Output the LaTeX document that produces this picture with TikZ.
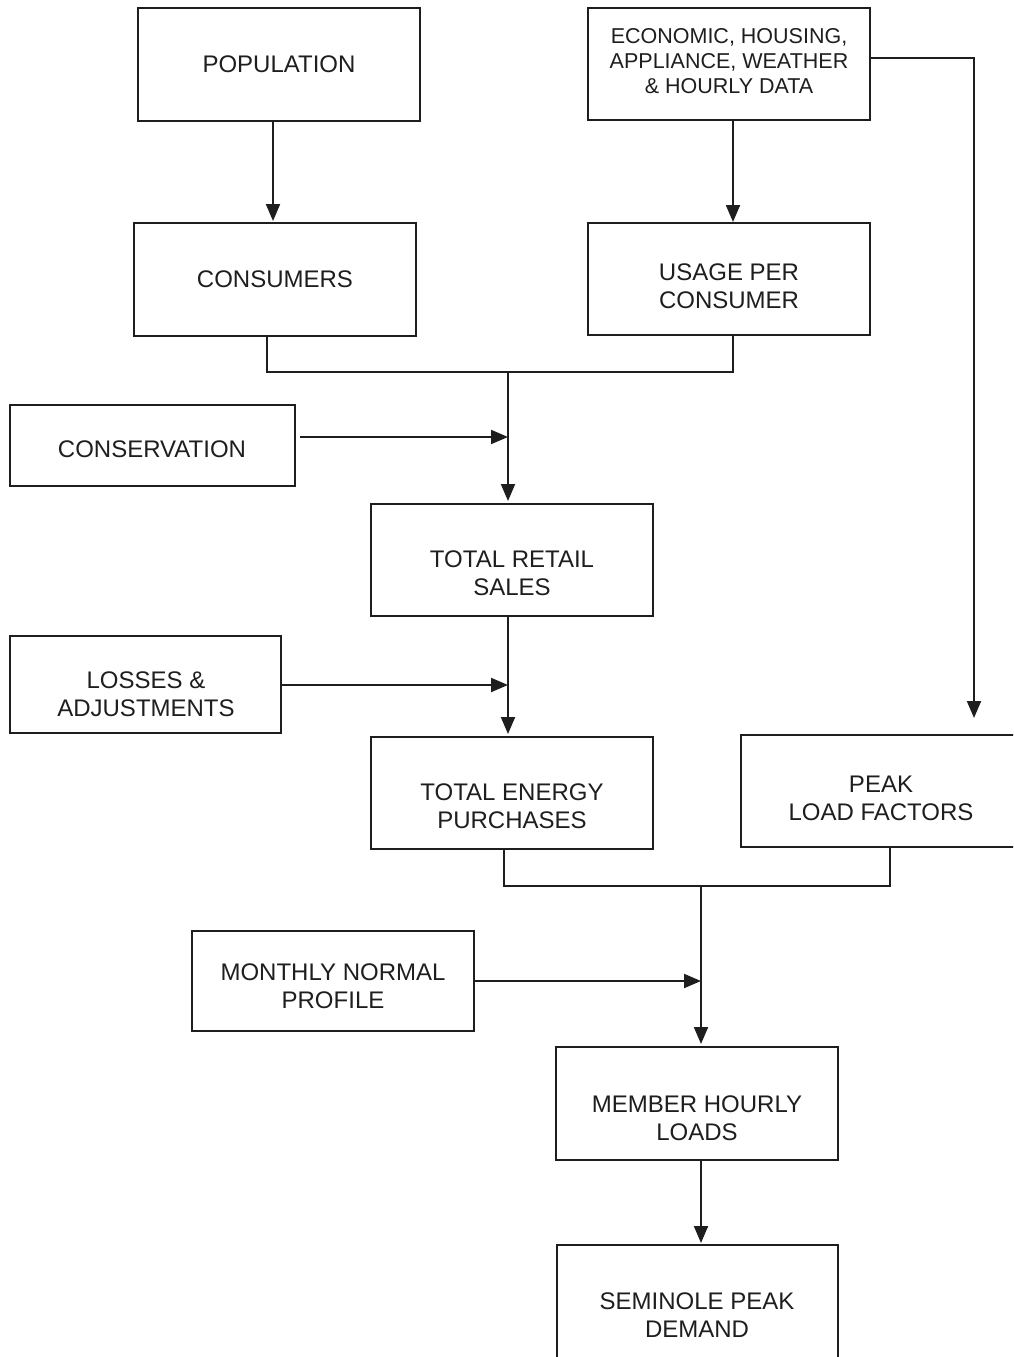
\documentclass[tikz,border=0pt]{standalone}
\usepackage{fontspec}
\setmainfont{Liberation Sans}
\usetikzlibrary{arrows.meta,calc}
\definecolor{ink}{HTML}{1E1E1E}
\begin{document}
\begin{tikzpicture}[x=1pt,y=-1pt,
  box/.style={draw=ink,line width=2pt,minimum width=282pt,minimum height=112pt,inner sep=0pt,outer sep=0pt},
  txt/.style={text=ink,align=center,inner sep=0pt,font=\fontsize{24pt}{28pt}\selectfont},
  smalltxt/.style={txt,font=\fontsize{21.5pt}{25pt}\selectfont},
  wire/.style={draw=ink,line width=2pt},
  arr/.style={wire,-{Triangle[length=17pt,width=14pt]}}]
\useasboundingbox (0,0) rectangle (1013,1357);
\clip (0,0) rectangle (1013,1357);

% boxes
\node[box,minimum height=113pt] (pop) at (279,64.5) {};
\node[box] (econ) at (729,64) {};
\node[box,minimum height=113pt] (cons) at (275,279.5) {};
\node[box] (usage) at (729,279) {};
\node[box,minimum width=285pt,minimum height=81pt] (consv) at (152.5,445.5) {};
\node[box] (retail) at (512,560) {};
\node[box,minimum width=271pt,minimum height=97pt] (losses) at (145.5,684.5) {};
\node[box] (energy) at (512,793) {};
\node[box] (peak) at (882,791) {};
\node[box,minimum height=100pt] (monthly) at (333,981) {};
\node[box,minimum height=113pt] (member) at (697,1103.5) {};
\node[box,minimum width=281pt,minimum height=116pt] (seminole) at (697.5,1303) {};

% texts
\node[txt] (pop-t) at (279,64) {POPULATION};
\node[smalltxt] (econ-t) at (729,61) {ECONOMIC, HOUSING,\\APPLIANCE, WEATHER\\\& HOURLY DATA};
\node[txt] (cons-t) at (275,279) {CONSUMERS};
\node[txt] (usage-t) at (729,286) {USAGE PER\\CONSUMER};
\node[txt] (consv-t) at (152,449) {CONSERVATION};
\node[txt] (retail-t) at (512,573) {TOTAL RETAIL\\SALES};
\node[txt] (losses-t) at (146,694) {LOSSES \&\\ADJUSTMENTS};
\node[txt] (energy-t) at (512,806) {TOTAL ENERGY\\PURCHASES};
\node[txt] (peak-t) at (881,798) {PEAK\\LOAD FACTORS};
\node[txt] (monthly-t) at (333,986) {MONTHLY NORMAL\\PROFILE};
\node[txt] (member-t) at (697,1118) {MEMBER HOURLY\\LOADS};
\node[txt] (seminole-t) at (697,1315) {SEMINOLE PEAK\\DEMAND};

% connectors
\draw[arr,shorten >=2pt] ([xshift=-6pt]pop.south) -- ([xshift=-6pt]pop.south |- cons.north);
\draw[arr,shorten >=1pt] ([xshift=4pt]econ.south) -- ([xshift=4pt]econ.south |- usage.north);
\coordinate (pkin) at ([shift={(92pt,17pt)}]peak.north);
\draw[arr] ([yshift=6pt]econ.east) -| (pkin);

\coordinate (m1) at (508,372);
\draw[wire] ([xshift=-8pt]cons.south) |- (m1) -| ([xshift=4pt]usage.south);
\draw[arr,shorten >=3pt] (m1) -- (m1 |- retail.north);
\draw[arr] ([shift={(5pt,8.5pt)}]consv.east) coordinate (c1) -- (c1 -| m1);

\draw[arr,shorten >=3pt] ([xshift=-4pt]retail.south) -- ([xshift=-4pt]retail.south |- energy.north);
\draw[arr] ([yshift=-0.5pt]losses.east) coordinate (c2) -- (c2 -| m1);

\coordinate (m2) at (701,886);
\draw[wire] ([xshift=-8pt]energy.south) |- (m2) -| ([xshift=8pt]peak.south);
\draw[arr,shorten >=3pt] (m2) -- (m2 |- member.north);
\draw[arr] (monthly.east) -- (monthly.east -| m2);

\draw[arr,shorten >=2pt] ([xshift=4pt]member.south) -- ([xshift=4pt]member.south |- seminole.north);
\end{tikzpicture}
\end{document}
